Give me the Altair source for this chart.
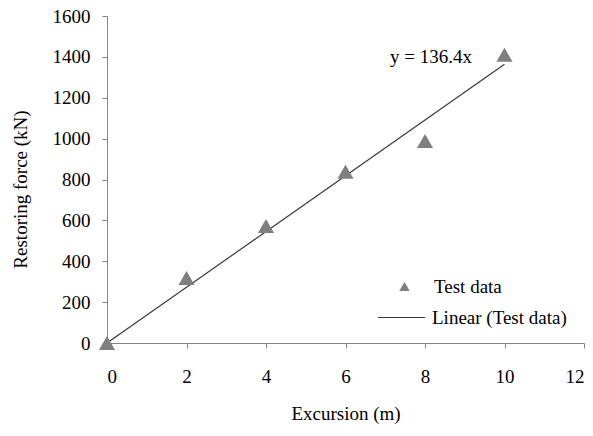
import altair as alt
import pandas as pd

excursion = [0, 2, 4, 6, 8, 10]
force = [0, 318, 572, 838, 988, 1410]
slope = 136.4
fit_x = [0, 10]
series_pts = "Test data"
series_fit = "Linear (Test data)"
eq_label = "y = 136.4x"
eq_pos = [8.15, 1400]

pts = pd.DataFrame({"x": excursion, "y": force, "s": [series_pts] * len(excursion)})
fit = pd.DataFrame({"x": fit_x, "y": [slope * v for v in fit_x], "s": [series_fit] * len(fit_x)})
ann = pd.DataFrame({"x": [eq_pos[0]], "y": [eq_pos[1]], "t": [eq_label]})

FONT = "Liberation Serif"
FS = 19

xs = alt.Scale(domain=[0, 12], nice=False)
ys = alt.Scale(domain=[0, 1600], nice=False)

xax = alt.Axis(title="Excursion (m)", values=[0, 2, 4, 6, 8, 10, 12], grid=False, format="d",
               labelPadding=19, titlePadding=18)
yax = alt.Axis(title="Restoring force (kN)", values=list(range(0, 1601, 200)), grid=False, format="d",
               labelPadding=12, titlePadding=22, titleY=173)

points = alt.Chart(pts).mark_point(shape="triangle-up", filled=True, size=260, opacity=1).encode(
    x=alt.X("x:Q", scale=xs, axis=xax),
    y=alt.Y("y:Q", scale=ys, axis=yax),
    color=alt.Color("s:N", scale=alt.Scale(domain=[series_pts], range=["#7f7f7f"]),
                    legend=alt.Legend(title=None, orient="none", legendX=288, legendY=261,
                                      symbolType="triangle-up", symbolSize=110,
                                      labelFont=FONT, labelFontSize=FS, labelColor="#000",
                                      labelOffset=20, padding=0)),
)

line = alt.Chart(fit).mark_line(strokeWidth=1.2).encode(
    x=alt.X("x:Q", scale=xs),
    y=alt.Y("y:Q", scale=ys),
    stroke=alt.Stroke("s:N", scale=alt.Scale(domain=[series_fit], range=["#3a3a3a"]),
                      legend=alt.Legend(title=None, orient="none", legendX=270, legendY=277,
                                        symbolType="stroke", symbolSize=2200, symbolStrokeWidth=1.2,
                                        labelFont=FONT, labelFontSize=FS, labelColor="#000",
                                        labelOffset=6, padding=0)),
)

text = alt.Chart(ann).mark_text(font=FONT, fontSize=FS, color="#000").encode(
    x=alt.X("x:Q", scale=xs),
    y=alt.Y("y:Q", scale=ys),
    text="t:N",
)

chart = alt.layer(line, points, text).resolve_scale(color="independent").properties(
    width=477, height=327,
    autosize=alt.AutoSizeParams(type="none"),
    padding={"left": 107, "top": 16, "right": 9, "bottom": 93},
).configure(background="white").configure_view(stroke=None).configure_axis(
    domainColor="#868686", tickColor="#868686", tickSize=5,
    labelFont=FONT, labelFontSize=FS, labelColor="#000",
    titleFont=FONT, titleFontSize=FS, titleColor="#000", titleFontWeight="normal",
)

chart.save("out.html", embed_options={"renderer": "svg", "actions": False})
